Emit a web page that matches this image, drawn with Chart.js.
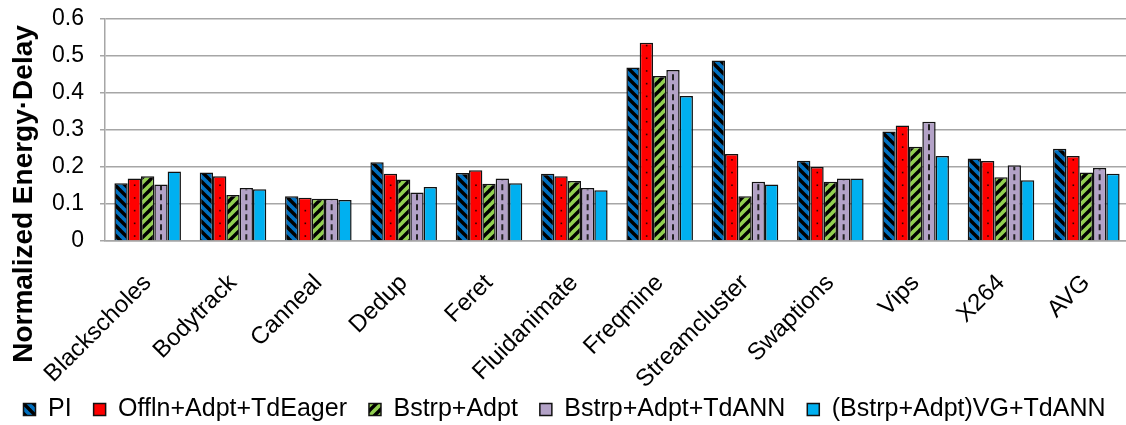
<!DOCTYPE html>
<html>
<head>
<meta charset="utf-8">
<script src="https://cdn.jsdelivr.net/npm/chart.js@4.4.1/dist/chart.umd.min.js"></script>
<style>
  html, body { margin: 0; padding: 0; background: #fff; overflow: hidden; }
  #wrap { width: 1129px; height: 425px; }
</style>
</head>
<body>
<div id="wrap"><canvas id="chart"></canvas></div>
<script>
const categories = ["Blackscholes", "Bodytrack", "Canneal", "Dedup", "Feret", "Fluidanimate",
  "Freqmine", "Streamcluster", "Swaptions", "Vips", "X264", "AVG"];
const seriesNames = ["PI", "Offln+Adpt+TdEager", "Bstrp+Adpt", "Bstrp+Adpt+TdANN", "(Bstrp+Adpt)VG+TdANN"];
const piValues     = [0.156, 0.185, 0.121, 0.213, 0.184, 0.182, 0.469, 0.488, 0.217, 0.296, 0.223, 0.249];
const offlnValues  = [0.169, 0.175, 0.117, 0.182, 0.191, 0.175, 0.536, 0.235, 0.200, 0.312, 0.216, 0.230];
const bstrpValues  = [0.175, 0.124, 0.114, 0.166, 0.155, 0.162, 0.446, 0.121, 0.160, 0.255, 0.172, 0.185];
const tdannValues  = [0.153, 0.143, 0.114, 0.131, 0.169, 0.143, 0.462, 0.160, 0.169, 0.322, 0.205, 0.197];
const vgValues     = [0.188, 0.140, 0.111, 0.146, 0.156, 0.137, 0.392, 0.153, 0.169, 0.230, 0.164, 0.182];
const yTickLabels  = ["0", "0.1", "0.2", "0.3", "0.4", "0.5", "0.6"];
const yTitle = "Normalized Energy\u00B7Delay";

Chart.defaults.font.family = '"Liberation Sans", Arial, sans-serif';
Chart.defaults.color = "#000";

// diagonal hatch tile, dir "\\" or "/"
function stripes(base, dir) {
  const size = 10;
  const c = document.createElement("canvas");
  c.width = size; c.height = size;
  const g = c.getContext("2d");
  g.fillStyle = base;
  g.fillRect(0, 0, size, size);
  g.strokeStyle = "#000";
  g.lineWidth = 3.4;
  for (let k = -1; k <= 1; k++) {
    g.beginPath();
    if (dir === "\\") { g.moveTo(k * size - 1, -1); g.lineTo(k * size + size + 1, size + 1); }
    else { g.moveTo(k * size - 1, size + 1); g.lineTo(k * size + size + 1, -1); }
    g.stroke();
  }
  return g.createPattern(c, "repeat");
}

// dots on the red bars, dashed centre line on the lavender ones
const barMarks = {
  id: "barMarks",
  afterDatasetsDraw(chart) {
    const ctx = chart.ctx;
    [1, 3].forEach(di => {
      chart.getDatasetMeta(di).data.forEach(bar => {
        const p = bar.getProps(["x", "y", "base", "width"], true);
        ctx.save();
        ctx.beginPath();
        ctx.rect(p.x - p.width / 2 + 1, p.y + 1.5, p.width - 2, p.base - p.y - 2);
        ctx.clip();
        if (di === 1) {
          ctx.fillStyle = "#300";
          for (let yy = p.base - 5; yy > p.y + 2; yy -= 12.7) ctx.fillRect(p.x - 0.5, yy, 1.6, 1.6);
        } else {
          ctx.strokeStyle = "#222";
          ctx.lineWidth = 2;
          ctx.setLineDash([6, 4]);
          ctx.beginPath();
          ctx.moveTo(p.x, p.base);
          ctx.lineTo(p.x, p.y);
          ctx.stroke();
        }
        ctx.restore();
      });
    });
  }
};

// axis title is longer than the plot, so it is centred on the plot plus labels
const yTitlePlugin = {
  id: "yTitle",
  afterDraw(chart) {
    const ctx = chart.ctx;
    const cy = (chart.chartArea.top + chart.scales.x.bottom) / 2 - 3;
    ctx.save();
    ctx.translate(32, cy);
    ctx.rotate(-Math.PI / 2);
    ctx.font = 'bold 28px "Liberation Sans", Arial, sans-serif';
    ctx.fillStyle = "#000";
    ctx.textAlign = "center";
    ctx.textBaseline = "alphabetic";
    ctx.fillText(yTitle, 0, 0);
    ctx.restore();
  }
};

const fills = [
  stripes("#0070C0", "\\"),
  "#FF0000",
  stripes("#92D050", "/"),
  "#B3A2C7",
  "#00B0F0"
];
const values = [piValues, offlnValues, bstrpValues, tdannValues, vgValues];

new Chart(document.getElementById("chart"), {
  type: "bar",
  data: {
    labels: categories,
    datasets: seriesNames.map((name, i) => ({
      label: name,
      data: values[i],
      backgroundColor: fills[i],
      borderColor: "#111",
      borderWidth: 1.5,
      barPercentage: 1,
      categoryPercentage: 0.78
    }))
  },
  options: {
    responsive: true,
    maintainAspectRatio: false,
    animation: false,
    layout: { padding: { top: 19, left: 0, right: 0, bottom: -7 } },
    plugins: {
      legend: {
        position: "bottom",
        labels: { boxWidth: 12, boxHeight: 12, padding: 22, font: { size: 25 } }
      },
      tooltip: { enabled: false }
    },
    scales: {
      x: {
        grid: { display: false },
        border: { display: true, color: "#a6a6a6", width: 1.5 },
        ticks: { minRotation: 45, maxRotation: 45, autoSkip: false, padding: 20, font: { size: 24 } },
        afterFit: s => {
          s.height = 134;
          // long rotated labels reach into the legend band; do not clip them
          s._computeLabelArea = () => null;
        }
      },
      y: {
        min: 0,
        max: 0.6,
        ticks: { stepSize: 0.1, autoSkip: false, padding: 16, font: { size: 23, lineHeight: 1 },
          callback: (v, i) => yTickLabels[i] },
        grid: { color: "#a6a6a6", lineWidth: 1.5, tickLength: 5 },
        border: { color: "#a6a6a6", width: 1.5 },
        afterFit: s => { s.width = 105; s.paddingTop = 0; s.paddingBottom = 0; }
      }
    }
  },
  plugins: [barMarks, yTitlePlugin]
});
</script>
</body>
</html>
